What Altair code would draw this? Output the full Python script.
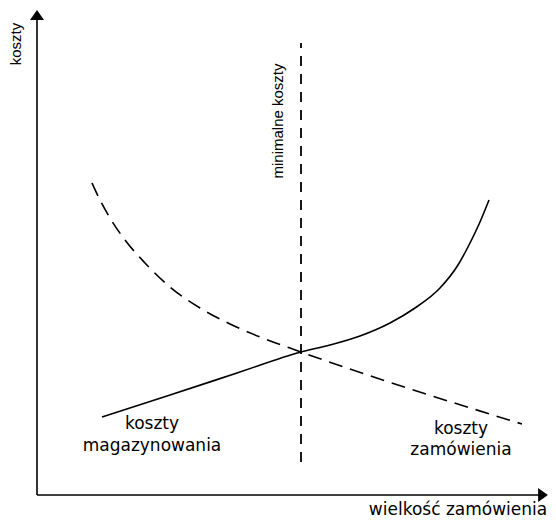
import altair as alt
import pandas as pd

# Coordinates in chart units: origin where the two axes meet
solid_x = [65, 130, 200, 264, 293, 323, 353, 378, 403, 421, 433, 443, 452]
solid_y = [78, 99, 122, 143, 150, 159, 172, 187, 207, 230, 252, 273, 295]

dash_x = [55, 63, 73, 88, 108, 133, 163, 193, 223, 264, 485]
dash_y = [312, 295, 277, 255, 232, 208, 187, 171, 158, 143, 71]

min_x = [264]
min_y0 = [33]
min_y1 = [452]

axis_x0 = [0, 0]
axis_y0 = [0, 0]
axis_x1 = [0, 505]
axis_y1 = [478, 0]

h_labels = ["koszty", "magazynowania", "koszty", "zamówienia", "wielkość zamówienia"]
h_x = [115, 115, 424, 424, 421]
h_y = [66, 44, 61, 40, -20]

v_labels = ["koszty", "minimalne koszty"]
v_x = [-16, 246]
v_y = [451, 374]

W, H = 540, 512
xs = alt.Scale(domain=[-29, 511], nice=False, zero=False)
ys = alt.Scale(domain=[-25, 487], nice=False, zero=False)

def X(f="x"):
    return alt.X(f"{f}:Q", scale=xs, axis=None)

def Y(f="y"):
    return alt.Y(f"{f}:Q", scale=ys, axis=None)

axes_df = pd.DataFrame({"x": axis_x0, "y": axis_y0, "x2": axis_x1, "y2": axis_y1})
axes = alt.Chart(axes_df).mark_rule(color="black", strokeWidth=1.6).encode(
    x=X(), y=Y(), x2="x2:Q", y2="y2:Q")

up_df = pd.DataFrame({"x": [0], "y": [480]})
up = alt.Chart(up_df).mark_point(
    shape="M-1,0.7L0,-0.7L1,0.7Z", filled=True, color="black", opacity=1, size=196
).encode(x=X(), y=Y())
right_df = pd.DataFrame({"x": [506], "y": [0]})
right = alt.Chart(right_df).mark_point(
    shape="M-0.7,-1L0.7,0L-0.7,1Z", filled=True, color="black", opacity=1, size=196
).encode(x=X(), y=Y())

solid_df = pd.DataFrame({"x": solid_x, "y": solid_y})
solid = alt.Chart(solid_df).mark_line(
    color="black", strokeWidth=1.6, interpolate="monotone"
).encode(x=X(), y=Y(), order="x:Q")

dash_df = pd.DataFrame({"x": dash_x, "y": dash_y})
dashed = alt.Chart(dash_df).mark_line(
    color="black", strokeWidth=1.6, interpolate="monotone", strokeDash=[14, 8]
).encode(x=X(), y=Y(), order="x:Q")

min_df = pd.DataFrame({"x": min_x, "y": min_y0, "y2": min_y1})
minline = alt.Chart(min_df).mark_rule(
    color="black", strokeWidth=1.8, strokeDash=[10, 8]
).encode(x=X(), y=Y(), y2="y2:Q")

h_df = pd.DataFrame({"t": h_labels, "x": h_x, "y": h_y})
htext = alt.Chart(h_df).mark_text(
    font="DejaVu Sans", fontSize=17, align="center", baseline="alphabetic", color="black"
).encode(x=X(), y=Y(), text="t:N")

v_df = pd.DataFrame({"t": v_labels, "x": v_x, "y": v_y})
vtext = alt.Chart(v_df).mark_text(
    font="Liberation Sans", fontSize=15, align="center", baseline="alphabetic",
    angle=270, color="black"
).encode(x=X(), y=Y(), text="t:N")

chart = alt.layer(axes, up, right, dashed, solid, minline, htext, vtext).properties(
    width=W, height=H, padding=0, autosize="none"
).configure_view(stroke=None)

chart.save("out.html", embed_options={"renderer": "svg", "actions": False})
